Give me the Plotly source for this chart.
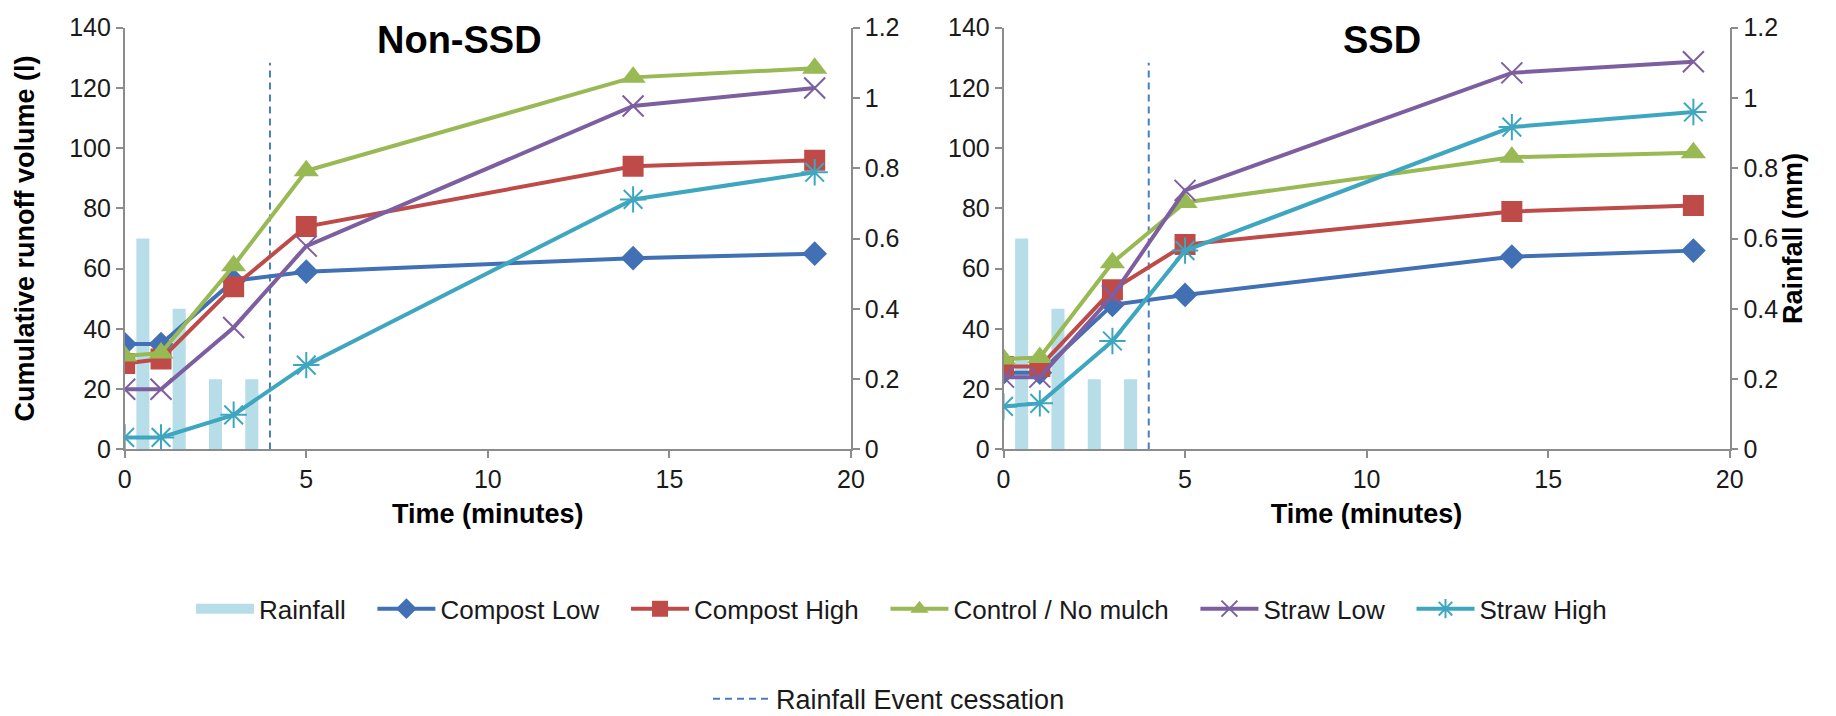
import plotly.graph_objects as go

time_min = [0, 1, 3, 5, 14, 19]
rain_time = [0.5, 1.5, 2.5, 3.5]
rain_mm = [0.6, 0.4, 0.2, 0.2]
cessation_x = [4, 4]
cessation_y = [0, 1.1]

series_names = ["Compost Low", "Compost High", "Control / No mulch", "Straw Low", "Straw High"]
non_ssd = {
    "Compost Low": [35, 35, 56, 59, 63.5, 65],
    "Compost High": [28.5, 30, 54, 74, 94, 96],
    "Control / No mulch": [31, 32, 61, 92.5, 123.5, 126.5],
    "Straw Low": [20, 20, 40.5, 67.5, 114, 120],
    "Straw High": [4, 4, 11.5, 28, 83, 92],
}
ssd = {
    "Compost Low": [25.5, 25.5, 48, 51.3, 64, 66],
    "Compost High": [27.5, 27.5, 53, 68, 79, 81],
    "Control / No mulch": [30, 30.5, 62, 82, 97, 98.5],
    "Straw Low": [24, 24, 51, 86, 125, 128.7],
    "Straw High": [14.3, 15.3, 36, 66, 107, 112],
}

colors = {
    "Compost Low": "#4170B5",
    "Compost High": "#BE4B48",
    "Control / No mulch": "#98B954",
    "Straw Low": "#7D5FA0",
    "Straw High": "#3FA6C0",
}
symbols = {
    "Compost Low": ("diamond", 19),
    "Compost High": ("square", 21),
    "Control / No mulch": ("triangle-up", 22),
    "Straw Low": ("x-thin-open", 21),
    "Straw High": ("asterisk-open", 22),
}
RAIN_COLOR = "#B7DEE8"
PAD = "\u00a0\u00a0\u00a0"

FONT = "Liberation Sans, Arial, sans-serif"
fig = go.Figure()

# legend-only swatch for rainfall (wide band like the reference)
fig.add_trace(go.Scatter(x=[None], y=[None], mode="lines", name="Rainfall" + PAD,
                         line=dict(color=RAIN_COLOR, width=16),
                         xaxis="x", yaxis="y", showlegend=True, legend="legend"))

panels = [("x", "y", "y2", non_ssd, True), ("x2", "y3", "y4", ssd, False)]
for xa, yrain, yrun, data, show in panels:
    fig.add_trace(go.Bar(x=rain_time, y=rain_mm, width=0.36, name="Rainfall",
                         marker=dict(color=RAIN_COLOR, line=dict(width=0)),
                         xaxis=xa, yaxis=yrain, showlegend=False))
    fig.add_trace(go.Scatter(x=cessation_x, y=cessation_y, mode="lines",
                             name="Rainfall Event cessation",
                             line=dict(color="#4A7EBB", width=2, dash="7px,5px"),
                             xaxis=xa, yaxis=yrain, showlegend=show, legend="legend2"))
    for n in series_names:
        sym, sz = symbols[n]
        mline = dict(width=2, color=colors[n]) if "open" in sym else dict(width=0)
        fig.add_trace(go.Scatter(x=time_min, y=data[n], mode="lines+markers",
                                 name=n + (PAD if n != "Straw High" else ""),
                                 line=dict(color=colors[n], width=4),
                                 marker=dict(symbol=sym, size=sz, color=colors[n], line=mline),
                                 xaxis=xa, yaxis=yrun, showlegend=show, legend="legend"))

ax_common = dict(showline=True, linecolor="#8C8C8C", linewidth=1.5, ticks="outside",
                 ticklen=7, tickcolor="#8C8C8C", tickwidth=1.5, showgrid=False, zeroline=False,
                 tickfont=dict(family=FONT, size=25, color="#1a1a1a"), automargin=False)

ydom = [1 - 449 / 716, 1 - 20 / 716]
xl = [116.7 / 1836, 843 / 1836]
xr = [995.5 / 1836, 1721.7 / 1836]

title_font = dict(family=FONT, size=27, color="black", weight="bold")

fig.update_layout(
    width=1836, height=716,
    margin=dict(l=0, r=0, t=0, b=0),
    paper_bgcolor="white", plot_bgcolor="rgba(0,0,0,0)",
    barmode="overlay",
    xaxis=dict(domain=xl, range=[0, 20], tickvals=[0, 5, 10, 15, 20], anchor="y",
               title=dict(text="Time (minutes)", font=title_font, standoff=12), **ax_common),
    xaxis2=dict(domain=xr, range=[0, 20], tickvals=[0, 5, 10, 15, 20], anchor="y3",
                title=dict(text="Time (minutes)", font=title_font, standoff=12), **ax_common),
    yaxis=dict(domain=ydom, range=[0, 1.2], tickvals=[0, 0.2, 0.4, 0.6, 0.8, 1, 1.2],
               ticktext=["0", "0.2", "0.4", "0.6", "0.8", "1", "1.2"],
               side="right", anchor="x", **ax_common),
    yaxis2=dict(range=[0, 140], dtick=20, side="left", overlaying="y", anchor="x",
                title=dict(text="Cumulative runoff volume (l)", font=title_font, standoff=27),
                **ax_common),
    yaxis3=dict(domain=ydom, range=[0, 1.2], tickvals=[0, 0.2, 0.4, 0.6, 0.8, 1, 1.2],
                ticktext=["0", "0.2", "0.4", "0.6", "0.8", "1", "1.2"],
                side="right", anchor="x2",
                title=dict(text="Rainfall (mm)", font=title_font, standoff=4), **ax_common),
    yaxis4=dict(range=[0, 140], dtick=20, side="left", overlaying="y3", anchor="x2", **ax_common),
    legend=dict(orientation="h", x=183 / 1836, y=1 - 611 / 716, xanchor="left", yanchor="middle",
                font=dict(family=FONT, size=26, color="#1a1a1a"), itemwidth=58,
                bgcolor="rgba(0,0,0,0)", traceorder="normal"),
    legend2=dict(orientation="h", x=700 / 1836, y=1 - 703 / 716, xanchor="left", yanchor="middle",
                 font=dict(family=FONT, size=27, color="#1a1a1a"), itemwidth=58,
                 bgcolor="rgba(0,0,0,0)"),
    annotations=[
        dict(text="Non-SSD", x=451 / 1836, y=1 - 33 / 716, xref="paper", yref="paper",
             showarrow=False, xanchor="center", yanchor="middle",
             font=dict(family=FONT, size=38, color="black", weight="bold")),
        dict(text="SSD", x=1374 / 1836, y=1 - 33 / 716, xref="paper", yref="paper",
             showarrow=False, xanchor="center", yanchor="middle",
             font=dict(family=FONT, size=38, color="black", weight="bold")),
    ],
)

fig.write_html("out.html")
